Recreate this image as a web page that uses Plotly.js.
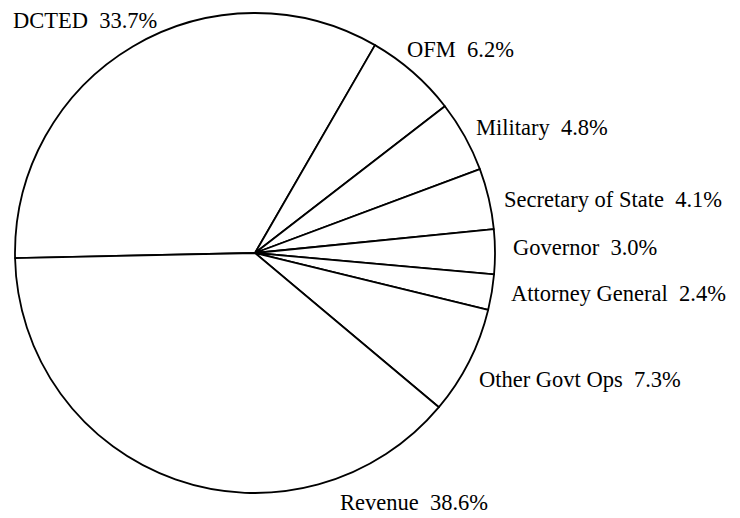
<!DOCTYPE html>
<html>
<head>
<meta charset="utf-8">
<script src="https://cdn.plot.ly/plotly-3.0.1.min.js"></script>
<style>html,body{margin:0;padding:0;background:#fff;}#chart{width:740px;height:518px;}</style>
</head>
<body>
<div id="chart"></div>
<script>
// Data
var categories = ["DCTED", "OFM", "Military", "Secretary of State", "Governor", "Attorney General", "Other Govt Ops", "Revenue"];
var shares = [33.7, 6.2, 4.8, 4.1, 3.0, 2.4, 7.3, 38.6];

// Label placement (pixel positions of label left edge / vertical center)
var labelX = [11, 405, 474, 502, 511, 509, 477, 338];
var labelY = [20, 49, 127, 199, 248, 293, 379, 502];

var W = 740, H = 518;

var trace = {
  type: "pie",
  labels: categories,
  values: shares,
  sort: false,
  direction: "clockwise",
  rotation: 268.8,
  textinfo: "none",
  hoverinfo: "label+value",
  marker: {colors: categories.map(function(){return "#ffffff";}), line: {color: "#000000", width: 1.8}},
  domain: {x: [15 / W, 495 / W], y: [1 - 493 / H, 1 - 13 / H]},
  showlegend: false
};

var annotations = categories.map(function(c, i) {
  return {
    text: c + "\u00a0\u00a0" + shares[i].toFixed(1) + "%",
    xref: "paper", yref: "paper",
    x: labelX[i] / W, y: 1 - labelY[i] / H,
    xanchor: "left", yanchor: "middle",
    showarrow: false,
    font: {family: "Liberation Serif, Times New Roman, serif", size: 22.5, color: "#000"}
  };
});

var layout = {
  width: W, height: H,
  margin: {l: 0, r: 0, t: 0, b: 0},
  paper_bgcolor: "#ffffff",
  plot_bgcolor: "#ffffff",
  annotations: annotations
};

Plotly.newPlot("chart", [trace], layout, {displayModeBar: false, staticPlot: true});
</script>
</body>
</html>
